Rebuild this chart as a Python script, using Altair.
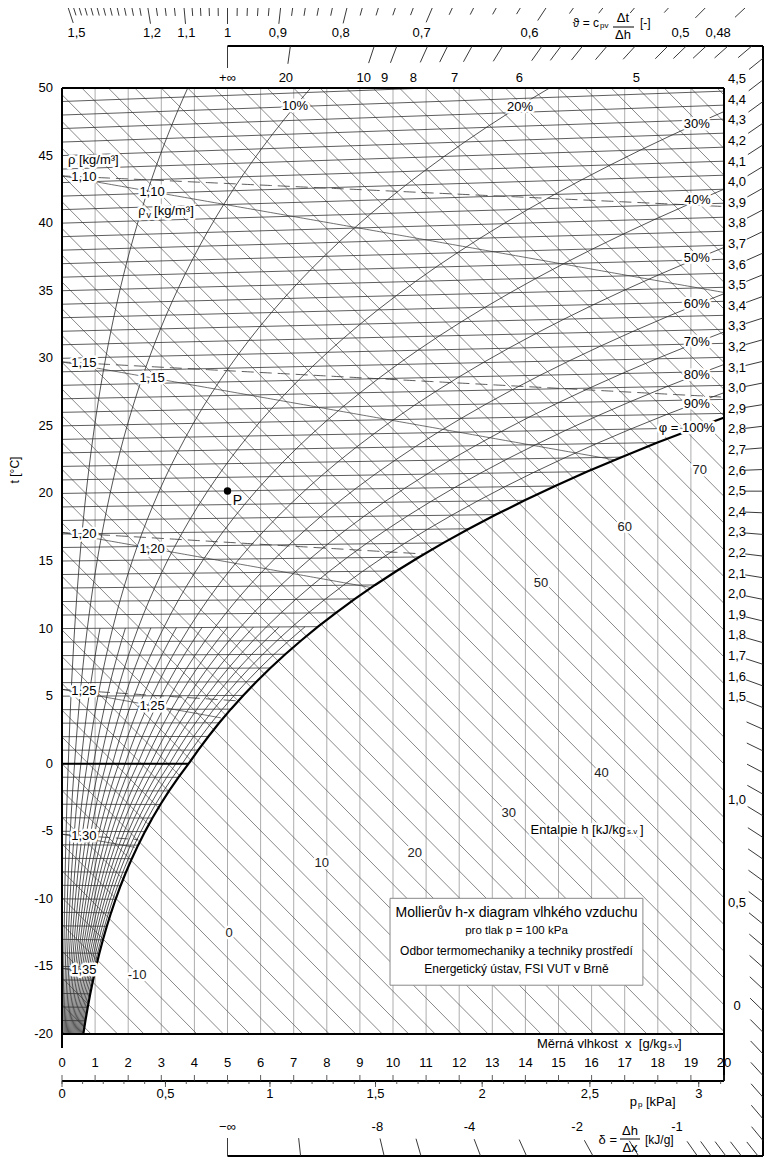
import altair as alt
import numpy as np
import pandas as pd

# ---------------- values ----------------
P_KPA = 100.0                      # total pressure of the diagram
t_sat = list(range(-20, 51))       # deg C
p_sat = [0.1032, 0.1135, 0.1248, 0.1371, 0.1506, 0.1652, 0.1811, 0.1984, 0.2172, 0.2376,
         0.2597, 0.2837, 0.3097, 0.3379, 0.3684, 0.4015, 0.4372, 0.4757, 0.5173, 0.5623,
         0.6112,
         0.6571, 0.7060, 0.7581, 0.8135, 0.8726, 0.9354, 1.0021, 1.0730, 1.1483, 1.2282,
         1.3130, 1.4028, 1.4981, 1.5990, 1.7058, 1.8188, 1.9384, 2.0647, 2.1983, 2.3393,
         2.4882, 2.6453, 2.8111, 2.9858, 3.1699, 3.3639, 3.5681, 3.7831, 4.0092, 4.2470,
         4.4969, 4.7596, 5.0354, 5.3251, 5.6290, 5.9479, 6.2823, 6.6328, 7.0002, 7.3849,
         7.7878, 8.2096, 8.6508, 9.1124, 9.5950, 10.0990, 10.6270, 11.1770, 11.7520, 12.3520]

rh_main = [5, 10, 20, 30, 40, 50, 60, 70, 80, 90]
rh_fine = [15, 25, 35, 45, 55, 65, 75, 85, 95]
rh_fine_top_t = 10
iso_t = list(range(-20, 51))
iso_h = list(range(-20, 102, 2))
x_grid = list(range(1, 20))
rho_vals = [1.10, 1.15, 1.20, 1.25, 1.30, 1.35]
rho_v_labelled = [1.10, 1.15, 1.20, 1.25]
t_ticks = list(range(-20, 51, 5))
x_ticks = list(range(0, 21))
pp_major = [0, 0.5, 1, 1.5, 2, 2.5, 3]
pp_major_lbl = ["0", "0,5", "1", "1,5", "2", "2,5", "3"]
pp_minor = [round(0.1 * i, 1) for i in range(0, 32)]
h_lbl_txt = ["-10", "0", "10", "20", "30", "40", "50", "60", "70"]
h_lbl_x = [2.27, 5.05, 7.85, 10.66, 13.5, 16.3, 14.47, 17.0, 19.27]
h_lbl_y = [-15.65, -12.54, -7.37, -6.6, -3.65, -0.7, 13.37, 17.5, 21.7]
rh_lbl_txt = ["10%", "20%", "30%", "40%", "50%", "60%", "70%", "80%", "90%", "φ = 100%"]
rh_lbl_x = [7.04, 13.84, 19.18, 19.2, 19.18, 19.18, 19.18, 19.18, 19.18, 18.88]
rh_lbl_y = [48.67, 48.6, 47.34, 41.7, 37.45, 34.0, 31.2, 28.8, 26.6, 24.83]
theta_major = [1.5, 1.2, 1.1, 1.0, 0.9, 0.8, 0.7, 0.6, 0.5, 0.48]
theta_major_lbl = ["1,5", "1,2", "1,1", "1", "0,9", "0,8", "0,7", "0,6", "0,5", "0,48"]
theta_minor = [round(0.48 + 0.02 * i, 3) for i in range(0, 32)] + \
              [round(1.1 + 0.025 * i, 3) for i in range(1, 16)]
delta_top_major = [np.inf, 20, 10, 9, 8, 7, 6, 5]
delta_top_lbl = ["+∞", "20", "10", "9", "8", "7", "6", "5"]
delta_top_minor = [7.5, 6.5, 5.8, 5.6, 5.4, 5.2, 4.9, 4.8, 4.7, 4.6]
delta_right = [round(4.5 - 0.1 * i, 1) for i in range(0, 51)]
delta_right_lbl_extra = [1.0, 0.5, 0.0]
delta_bot_major = [-1, -2, -4, -8, -np.inf]
delta_bot_lbl = ["-1", "-2", "-4", "-8", "−∞"]
delta_bot_minor = [-0.6, -0.7, -0.8, -0.9, -1.5, -3, -6, -20]
P_X, P_T = 5.0, 20.0

# ---------------- diagram relations (h-x, oblique axes) ----------------
CPA, CPV, R0, RA = 1.01, 1.86, 2.501, 287.1
KX = 662 / 20.0          # px per g/kg
KY = 946 / 70.0          # px per deg C
FONT = "Liberation Sans"
NB = "\u00a0"

# layout of the scales around the diagram (px from the plot edges)
TOP_FRAME_PX, THETA_LINE_PX = 42, 85
RIGHT_FRAME_PX, THETA_END_PX = 39, 40
BOTTOM_FRAME_PX = 122


def ps_at(t):
    return float(np.interp(t, t_sat, p_sat))


def x_at(t, phi):
    pv = ps_at(t) * phi
    return 622.0 * pv / (P_KPA - pv)


def y_of(t, x):
    return t * (1 + CPV * x / (1000 * CPA))


def y_h(h, x):
    return (h - R0 * x) / CPA


def PX(px):
    return (px - 62) / KX


def PY(py):
    return 50 - (py - 88) / KY


XS = alt.Scale(domain=[0, 20], nice=False, zero=False)
YS = alt.Scale(domain=[-20, 50], nice=False, zero=False)


def line_layer(df, color, width, dash=None, clip=True):
    kw = dict(color=color, strokeWidth=width, clip=clip)
    if dash:
        kw["strokeDash"] = dash
    return alt.Chart(df).mark_line(**kw).encode(
        x=alt.X("x:Q", scale=XS, axis=None),
        y=alt.Y("y:Q", scale=YS, axis=None),
        detail="id:N", order="o:Q")


def seg_layer(df, color, width, clip=True):
    return alt.Chart(df).mark_rule(color=color, strokeWidth=width, clip=clip).encode(
        x=alt.X("x:Q", scale=XS, axis=None),
        y=alt.Y("y:Q", scale=YS, axis=None),
        x2="x2:Q", y2="y2:Q")


def text_layers(df, size, align="center", halo=False, angle=None, baseline="middle", color="black"):
    kw = dict(fontSize=size, align=align, baseline=baseline, font=FONT)
    if angle is not None:
        kw["angle"] = angle
    enc = dict(x=alt.X("x:Q", scale=XS, axis=None), y=alt.Y("y:Q", scale=YS, axis=None),
               text=alt.Text("label:N"))
    out = []
    if halo:
        out.append(alt.Chart(df).mark_text(fill="white", stroke="white", strokeWidth=5,
                                           strokeJoin="round", **kw).encode(**enc))
    out.append(alt.Chart(df).mark_text(fill=color, **kw).encode(**enc))
    return out


def txt(items):
    return pd.DataFrame([dict(x=a, y=b, label=c) for a, b, c in items])


layers = []

# vertical x = const lines
layers.append(seg_layer(pd.DataFrame([dict(x=v, y=-20, x2=v, y2=50) for v in x_grid]), "#8a8a8a", 0.7))

# isenthalps
layers.append(seg_layer(pd.DataFrame([dict(x=0, y=y_h(h, 0), x2=20, y2=y_h(h, 20)) for h in iso_h]),
                        "#555555", 0.7))

# isotherms
iso_rows = []
for t in iso_t:
    xe = min(x_at(t, 1.0), 20.0)
    iso_rows.append(dict(x=0, y=y_of(t, 0), x2=xe, y2=y_of(t, xe)))
layers.append(seg_layer(pd.DataFrame(iso_rows), "#333333", 0.8))

# relative humidity curves
rh_rows = []
for phi in rh_main:
    for t in t_sat:
        x = x_at(t, phi / 100)
        rh_rows.append(dict(id=f"m{phi}", o=t, x=x, y=y_of(t, x)))
for phi in rh_fine:
    for t in t_sat:
        if t <= rh_fine_top_t:
            x = x_at(t, phi / 100)
            rh_rows.append(dict(id=f"f{phi}", o=t, x=x, y=y_of(t, x)))
layers.append(line_layer(pd.DataFrame(rh_rows), "#2a2a2a", 0.8))

# density lines
rho_rows, rhov_rows = [], []
for rho in rho_vals:
    T0 = P_KPA * 1000 / (rho * RA)
    for humid, store in ((True, rho_rows), (False, rhov_rows)):
        for i in range(0, 201):
            x = i * 0.1
            f = 1 + 1.608 * x / 1000
            T = T0 * (1 + x / 1000) / f if humid else T0 / f
            t = T - 273.15
            if x > x_at(t, 1.0):
                break
            store.append(dict(id=f"{rho}", o=i, x=x, y=y_of(t, x)))
layers.append(line_layer(pd.DataFrame(rho_rows), "#333333", 0.8, dash=[12, 6]))
layers.append(line_layer(pd.DataFrame(rhov_rows), "#333333", 0.7))

# saturation curve
sat_rows = []
for t in t_sat:
    x = x_at(t, 1.0)
    sat_rows.append(dict(id="sat", o=t, x=x, y=y_of(t, x)))
    if x > 20:
        break
layers.append(line_layer(pd.DataFrame(sat_rows), "black", 2.2))

# 0 deg C isotherm bold
x0 = x_at(0, 1.0)
layers.append(seg_layer(pd.DataFrame([dict(x=0, y=0, x2=x0, y2=0)]), "black", 2.0))

# plot frame
frame = [dict(x=0, y=-20, x2=0, y2=50), dict(x=20, y=-20, x2=20, y2=50),
         dict(x=0, y=50, x2=20, y2=50), dict(x=0, y=-20, x2=20, y2=-20)]
layers.append(seg_layer(pd.DataFrame(frame), "black", 2.0, clip=False))

# ---------------- bottom axes ----------------
Y_XLBL = -20 - 29 / KY
Y_AX2 = -20 - 47 / KY
Y_PPLBL = -20 - 60 / KY
bot_rows = [dict(x=0, y=Y_AX2, x2=20, y2=Y_AX2),
            dict(x=0, y=-20, x2=0, y2=-20 - 14 / KY),
            dict(x=20, y=-20, x2=20, y2=Y_AX2)]
layers.append(seg_layer(pd.DataFrame(bot_rows), "black", 2.0, clip=False))
tick_rows = [dict(x=v, y=Y_AX2, x2=v, y2=Y_AX2 + 6 / KY) for v in x_ticks]
for p in pp_major:
    xv = 622 * p / (P_KPA - p)
    tick_rows.append(dict(x=xv, y=Y_AX2, x2=xv, y2=Y_AX2 - 6 / KY))
for p in pp_minor:
    xv = 622 * p / (P_KPA - p)
    tick_rows.append(dict(x=xv, y=Y_AX2, x2=xv, y2=Y_AX2 - 3 / KY))
layers.append(seg_layer(pd.DataFrame(tick_rows), "#333333", 0.8, clip=False))
layers += text_layers(txt([(v, Y_XLBL, str(v)) for v in x_ticks]), 13)
layers += text_layers(txt([(622 * p / (P_KPA - p), Y_PPLBL, l) for p, l in zip(pp_major, pp_major_lbl)]), 13)
layers += text_layers(txt([(PX(667), PY(1044), f"Měrná vlhkost{NB}{NB}x{NB}{NB}[g/kg")]), 13, align="right")
layers += text_layers(txt([(PX(668), PY(1046), "s.v")]), 8, align="left")
layers += text_layers(txt([(PX(678), PY(1044), "]")]), 13, align="left")
layers += text_layers(txt([(PX(637), PY(1102), "p")]), 13, align="right")
layers += text_layers(txt([(PX(638), PY(1105), "p")]), 8, align="left")
layers += text_layers(txt([(PX(646), PY(1102), "[kPa]")]), 13, align="left")

# left axis
layers += text_layers(txt([(PX(53), float(t), str(t)) for t in t_ticks]), 13, align="right")
layers += text_layers(txt([(PX(15), PY(470), "t [°C]")]), 12, angle=270)

# ---------------- direction scales ----------------
Y_TOP = 50 + TOP_FRAME_PX / KY
Y_TH = 50 + THETA_LINE_PX / KY
X_R = 20 + RIGHT_FRAME_PX / KX
Y_BOT = -20 - BOTTOM_FRAME_PX / KY
X_TH_END = 20 + THETA_END_PX / KX
YP = y_of(P_T, P_X)


def unit_to_pole(xi, yi):
    dxp = (P_X - xi) * KX
    dyp = (YP - yi) * KY
    n = np.hypot(dxp, dyp)
    return dxp / n, dyp / n


def move(xi, yi, s):
    ux, uy = unit_to_pole(xi, yi)
    return xi + s * ux / KX, yi + s * uy / KY


def delta_hit(d):
    if d == np.inf:
        return P_X, Y_TOP, "top"
    if d == -np.inf:
        return P_X, Y_BOT, "bottom"
    m = (d - R0) / CPA
    if m > 0:
        xt = P_X + (Y_TOP - YP) / m
        if xt <= X_R:
            return xt, Y_TOP, "top"
        return X_R, YP + m * (X_R - P_X), "right"
    yr = YP + m * (X_R - P_X)
    if yr >= Y_BOT:
        return X_R, yr, "right"
    return P_X + (Y_BOT - YP) / m, Y_BOT, "bottom"


def label_pos(xi, yi, side):
    ux, uy = unit_to_pole(xi, yi)
    if side == "right":
        s = 26 / max(abs(ux), 1e-6)
    elif side == "top":
        s = 32 / max(abs(uy), 1e-6)
    else:
        s = 29 / max(abs(uy), 1e-6)
    return move(xi, yi, s)


# outer frame of the delta scale
outer = [dict(x=P_X, y=Y_TOP, x2=X_R, y2=Y_TOP), dict(x=X_R, y=Y_TOP, x2=X_R, y2=Y_BOT),
         dict(x=P_X, y=Y_BOT, x2=X_R, y2=Y_BOT), dict(x=-1 / KX, y=Y_TH, x2=X_TH_END, y2=Y_TH)]
layers.append(seg_layer(pd.DataFrame(outer), "black", 2.0, clip=False))

dticks, dlbls = [], []
all_delta = list(delta_top_major) + list(delta_top_minor) + list(delta_right) + \
            list(delta_bot_major) + list(delta_bot_minor)
for d in all_delta:
    xi, yi, side = delta_hit(d)
    L = 22 if d == np.inf else 18
    xe, ye = move(xi, yi, L)
    dticks.append(dict(x=xi, y=yi, x2=xe, y2=ye))
layers.append(seg_layer(pd.DataFrame(dticks), "#222222", 0.9, clip=False))

for d, l in zip(delta_top_major, delta_top_lbl):
    xi, yi, side = delta_hit(d)
    lx, ly = label_pos(xi, yi, side)
    dlbls.append((lx, ly, l))
for d in delta_right:
    if d >= 1.5 - 1e-9 or any(abs(d - e) < 1e-9 for e in delta_right_lbl_extra):
        xi, yi, side = delta_hit(d)
        lx, ly = label_pos(xi, yi, side)
        lab = "0" if abs(d) < 1e-9 else f"{d:.1f}".replace(".", ",")
        dlbls.append((lx, ly, lab))
for d, l in zip(delta_bot_major, delta_bot_lbl):
    xi, yi, side = delta_hit(d)
    lx, ly = label_pos(xi, yi, side)
    dlbls.append((lx, ly, l))
layers += text_layers(txt(dlbls), 13)

# theta scale
th_ticks, th_lbls = [], []
th_minor_only = [v for v in theta_minor if all(abs(v - m) > 1e-6 for m in theta_major)]
for v, major in [(m, True) for m in theta_major] + [(m, False) for m in th_minor_only]:
    xi = P_X + (Y_TH - YP) * (1 - v) * CPA / (R0 * v)
    xe, ye = move(xi, Y_TH, 21 if major else 13)
    th_ticks.append(dict(x=xi, y=Y_TH, x2=xe, y2=ye))
for v, l in zip(theta_major, theta_major_lbl):
    xi = P_X + (Y_TH - YP) * (1 - v) * CPA / (R0 * v)
    ux, uy = unit_to_pole(xi, Y_TH)
    lx, ly = move(xi, Y_TH, 30 / abs(uy))
    th_lbls.append((lx, ly, l))
layers.append(seg_layer(pd.DataFrame(th_ticks), "#222222", 0.9, clip=False))
layers += text_layers(txt(th_lbls), 13)

# formulas
layers += text_layers(txt([(PX(599), PY(23), "ϑ = c")]), 12, align="right")
layers += text_layers(txt([(PX(600), PY(26), "pv")]), 8, align="left")
layers += text_layers(txt([(PX(623), PY(18), "Δt"), (PX(623), PY(35), "Δh")]), 13)
layers.append(seg_layer(pd.DataFrame([dict(x=PX(613), y=PY(27), x2=PX(634), y2=PY(27))]), "black", 1.0, clip=False))
layers += text_layers(txt([(PX(640), PY(23), "[-]")]), 12, align="left")

layers += text_layers(txt([(PX(617), PY(1140), "δ =")]), 13, align="right")
layers += text_layers(txt([(PX(630), PY(1131), "Δh"), (PX(630), PY(1148), "Δx")]), 13)
layers.append(seg_layer(pd.DataFrame([dict(x=PX(620), y=PY(1139), x2=PX(640), y2=PY(1139))]), "black", 1.0, clip=False))
layers += text_layers(txt([(PX(645), PY(1140), "[kJ/g]")]), 12, align="left")

# ---------------- labels inside the diagram ----------------
layers += text_layers(txt(list(zip(rh_lbl_x, rh_lbl_y, rh_lbl_txt))), 13, halo=True)
layers += text_layers(txt(list(zip(h_lbl_x, h_lbl_y, h_lbl_txt))), 13, halo=True, color="#222222")
layers += text_layers(txt([(PX(626), PY(830), "Entalpie h [kJ/kg")]), 13, align="right", halo=True)
layers += text_layers(txt([(PX(627), PY(832), "s.v")]), 8, align="left", halo=True)
layers += text_layers(txt([(PX(640), PY(830), "]")]), 13, align="left", halo=True)

rho_lbls = []
for rho in rho_vals:
    T0 = P_KPA * 1000 / (rho * RA)
    xl = 0.66
    T = T0 * (1 + xl / 1000) / (1 + 1.608 * xl / 1000)
    rho_lbls.append((xl, y_of(T - 273.15, xl), f"{rho:.2f}".replace(".", ",")))
for rho in rho_v_labelled:
    T0 = P_KPA * 1000 / (rho * RA)
    xl = 2.72
    T = T0 / (1 + 1.608 * xl / 1000)
    rho_lbls.append((xl, y_of(T - 273.15, xl), f"{rho:.2f}".replace(".", ",")))
layers += text_layers(txt(rho_lbls), 13, halo=True)
layers += text_layers(txt([(0.18, 44.67, "ρ [kg/m³]")]), 13, align="left", halo=True)
layers += text_layers(txt([(2.30, 40.9, "ρ")]), 13, align="left", halo=True)
layers += text_layers(txt([(2.55, 40.6, "v")]), 9, align="left", halo=True)
layers += text_layers(txt([(2.78, 40.9, "[kg/m³]")]), 13, align="left", halo=True)

# title box
box = pd.DataFrame([dict(x=9.91, x2=17.55, y=-9.96, y2=-16.39)])
layers.append(alt.Chart(box).mark_rect(fill="white", stroke="#888888", strokeWidth=1).encode(
    x=alt.X("x:Q", scale=XS, axis=None), x2="x2:Q",
    y=alt.Y("y:Q", scale=YS, axis=None), y2="y2:Q"))
layers += text_layers(txt([(13.73, -11.07, "Mollierův h-x diagram vlhkého vzduchu")]), 14)
layers += text_layers(txt([(13.73, -12.40, "pro tlak p = 100 kPa")]), 11.5)
layers += text_layers(txt([(13.73, -13.88, "Odbor termomechaniky a techniky prostředí"),
                           (13.73, -15.21, "Energetický ústav, FSI VUT v Brně")]), 12)

# point P
pdf = pd.DataFrame([dict(x=P_X, y=YP)])
layers.append(alt.Chart(pdf).mark_point(filled=True, color="black", size=55, opacity=1).encode(
    x=alt.X("x:Q", scale=XS, axis=None), y=alt.Y("y:Q", scale=YS, axis=None)))
layers += text_layers(txt([(P_X + 0.3, YP - 0.75, "P")]), 14, halo=True)

chart = alt.layer(*layers).properties(
    width=662, height=946,
    autosize=alt.AutoSizeParams(type="none"),
    padding={"left": 54, "top": 80, "right": 40, "bottom": 124},
    background="white",
).configure_view(stroke=None)

chart.save("out.html", embed_options={"renderer": "svg", "actions": False})
